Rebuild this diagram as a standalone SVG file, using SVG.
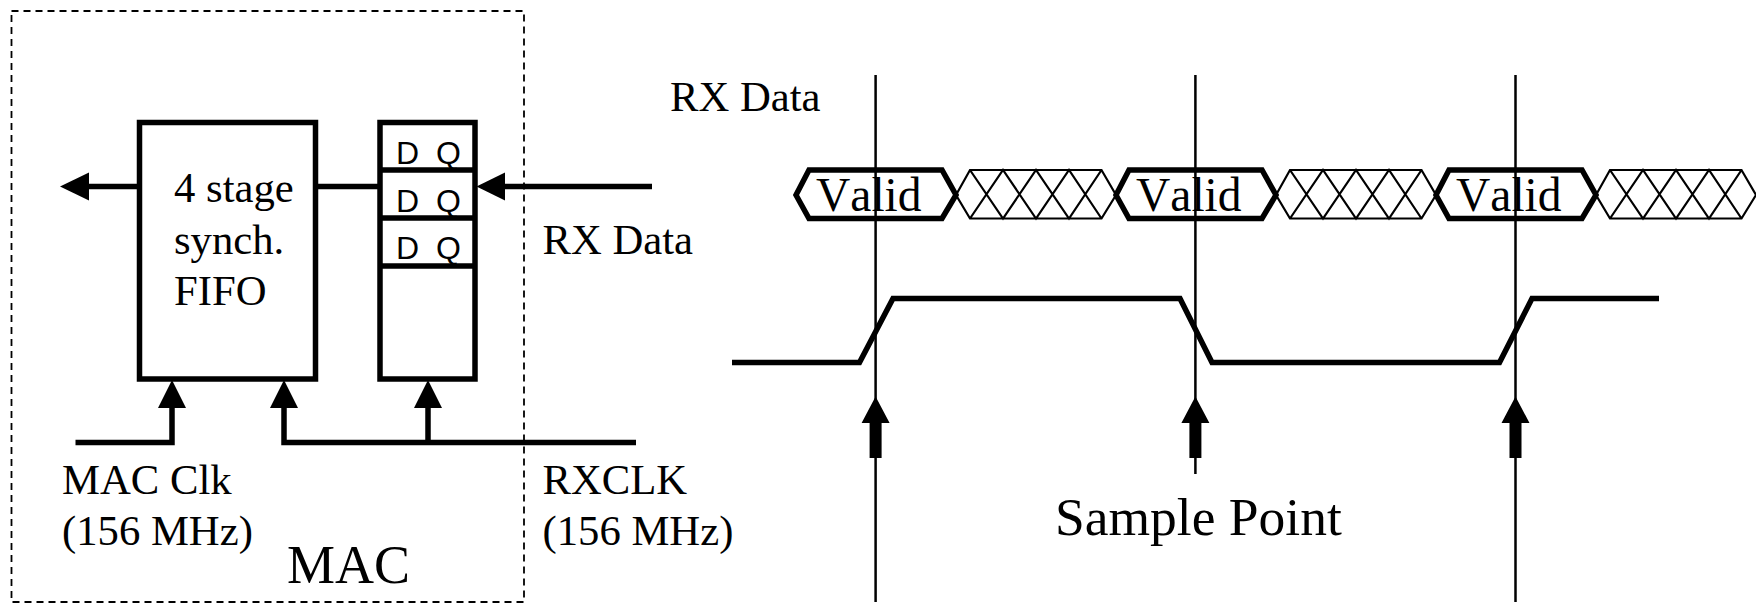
<svg xmlns="http://www.w3.org/2000/svg" width="1756" height="604" viewBox="0 0 1756 604">
<style>
text{font-family:"Liberation Serif","Times New Roman",serif;font-size:42.700px;fill:#000}
.ff{font-family:"Liberation Sans",Arial,sans-serif;font-size:32px}
.box{fill:none;stroke:#000;stroke-width:5.5}
.wire{fill:none;stroke:#000;stroke-width:5.5}
.head{fill:#000;stroke:none}
.thin{fill:none;stroke:#000;stroke-width:2.5}
.valid{fill:none;stroke:#000;stroke-width:5.5;stroke-miterlimit:10}
.hatch{fill:none;stroke:#000;stroke-width:2.2}
.big{font-size:54px}
.vt{font-size:47.500px;font-kerning:none}
.sp{font-size:53.500px}
</style>
<defs>
<g id="validShape">
<polygon class="valid" points="796,195 809,170 942,170 956,195 942,218.500 809,218.500"/>
</g>
<g id="hatchShape">
<path class="hatch" d="M956,195L970,170H1101.500L1116,195L1101.500,218.500H970ZM970,170L1003,218.500L1036,170L1069,218.500L1101.500,170M970,218.500L1003,170L1036,218.500L1069,170L1101.500,218.500"/>
</g>
<path id="sampleArrow" class="head" d="M0,396.500L14,423H6V458H-6V423H-14Z"/>
</defs>
<g id="mac-boundary">
<rect x="11.500" y="11" width="512.500" height="591" fill="none" stroke="#000" stroke-width="1.800" stroke-dasharray="7 5"/>
<text class="big" x="287" y="583">MAC</text>
</g>
<g id="connectors">
<path class="wire" d="M89,186.500H140M315,186.500H380M505,186.500H652M75.500,442.500H172V407M284,407V442.500H636M428,442.500V407"/>
<polygon class="head" points="60,186.500 89,172.500 89,200.500"/>
<polygon class="head" points="476.500,186.500 505,172.500 505,200.500"/>
<polygon class="head" points="172,380 186,408 158,408"/>
<polygon class="head" points="284,380 298,408 270,408"/>
<polygon class="head" points="428,380 442,408 414,408"/>
</g>
<g id="fifo">
<rect class="box" x="139.500" y="122.500" width="176" height="256.500"/>
<text x="174" y="202">4 stage</text>
<text x="174" y="253.500">synch.</text>
<text x="174" y="305">FIFO</text>
</g>
<g id="flipflops">
<rect class="box" x="380" y="122.500" width="95" height="256.500"/>
<path class="box" d="M380,170H475M380,218H475M380,266H475"/>
<text class="ff" x="396" y="164">D</text><text class="ff" x="436" y="164">Q</text>
<text class="ff" x="396" y="212">D</text><text class="ff" x="436" y="212">Q</text>
<text class="ff" x="396" y="259">D</text><text class="ff" x="436" y="259">Q</text>
</g>
<g id="labels">
<text x="542.500" y="253.500">RX Data</text>
<text x="62" y="494">MAC Clk</text>
<text x="62" y="544.500">(156 MHz)</text>
<text x="542.500" y="494">RXCLK</text>
<text x="542.500" y="544.500">(156 MHz)</text>
<text x="670" y="111">RX Data</text>
</g>
<g id="rx-data-timing">
<use href="#validShape"/>
<use href="#validShape" x="320"/>
<use href="#validShape" x="640"/>
<use href="#hatchShape"/>
<use href="#hatchShape" x="320"/>
<use href="#hatchShape" x="640"/>
<text class="vt" x="816" y="211">Valid</text>
<text class="vt" x="1136" y="211">Valid</text>
<text class="vt" x="1456" y="211">Valid</text>
</g>
<g id="clock-wave">
<path class="wire" d="M732,362.500H859.500L893,298.500H1180L1212,362.500H1499.500L1532,298.500H1659"/>
</g>
<g id="sample-lines">
<path class="thin" d="M875.600,75V602M1195.400,75V474M1515.500,75V602"/>
<use href="#sampleArrow" x="875.600"/>
<use href="#sampleArrow" x="1195.400"/>
<use href="#sampleArrow" x="1515.500"/>
<text class="sp" x="1055" y="535">Sample Point</text>
</g>
</svg>
